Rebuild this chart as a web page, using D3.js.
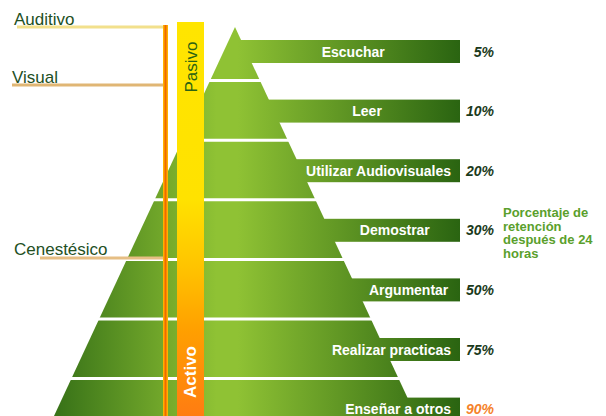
<!DOCTYPE html>
<html>
<head>
<meta charset="utf-8">
<script src="https://cdn.jsdelivr.net/npm/d3@7"></script>
<style>
  html, body { margin: 0; padding: 0; background: #fff; }
  svg { display: block; font-family: "Liberation Sans", Arial, sans-serif; }
</style>
</head>
<body>
<div id="container"></div>
<script>
// ------ Data ------
const activities = ["Escuchar", "Leer", "Utilizar Audiovisuales", "Demostrar",
  "Argumentar", "Realizar practicas", "Enseñar a otros"];
const retention = [5, 10, 20, 30, 50, 75, 90];
const senses = ["Auditivo", "Visual", "Cenestésico"];
const senseStart = ["Escuchar", "Leer", "Argumentar"];   // layer where each sense begins
const modes = ["Pasivo", "Activo"];
const noteLines = ["Porcentaje de", "retención", "después de 24", "horas"];

// ------ Global Values ------
const width = 606,
  height = 416;

const svg = d3.select('#container').append('svg')
  .attr('width', width)
  .attr('height', height);

const apex = { x: 235, y: 27 };
const barEnd = 460;

const y = d3.scaleBand()
  .domain(activities)
  .range([21, 21 + 59.6 * activities.length]);

// half width of the pyramid at a given height
const half = d3.scaleLinear()
  .domain([apex.y, 416])
  .range([0, 181]);

const defs = svg.append('defs');

const green = defs.append('linearGradient')
  .attr('id', 'green')
  .attr('gradientUnits', 'userSpaceOnUse')
  .attr('x1', 40).attr('x2', barEnd)
  .attr('y1', 0).attr('y2', 0);
[[0, '#2f6a15'], [0.42, '#8fc234'], [0.47, '#8fc234'], [1, '#2a6411']]
  .forEach(s => green.append('stop').attr('offset', s[0]).attr('stop-color', s[1]));

const band = defs.append('linearGradient')
  .attr('id', 'band')
  .attr('gradientUnits', 'userSpaceOnUse')
  .attr('x1', 0).attr('x2', 0)
  .attr('y1', 22).attr('y2', height);
[[0, '#ffe500'], [0.45, '#ffe200'], [0.62, '#ffc400'], [0.78, '#ffa000'], [1, '#ff7c12']]
  .forEach(s => band.append('stop').attr('offset', s[0]).attr('stop-color', s[1]));

// ------ Pyramid ------
const yb = height + 30;
svg.append('path')
  .attr('d', d3.line()([[apex.x, apex.y], [apex.x + half(yb), yb], [apex.x - half(yb), yb]]) + 'Z')
  .attr('fill', 'url(#green)');

const barH = 23, barOff = 19;

svg.append('g').selectAll('rect').data(activities)
  .enter().append('rect')
  .attr('x', apex.x)
  .attr('y', d => y(d) + barOff)
  .attr('width', barEnd - apex.x)
  .attr('height', barH)
  .attr('fill', 'url(#green)');

// white separators between layers
svg.append('g').selectAll('line').data(activities.slice(1))
  .enter().append('line')
  .attr('x1', d => apex.x - half(y(d)) - 2)
  .attr('x2', d => apex.x + half(y(d)) + 2)
  .attr('y1', d => y(d))
  .attr('y2', d => y(d))
  .attr('stroke', '#fff')
  .attr('stroke-width', 3);

// ------ Senses ------
const senseColors = ['#f2e08c', '#e0b674', '#e6be84'];
const senseShift = [0, 4.4, -1.5];
const senseY = (d, i) => i === 0 ? apex.y : y(senseStart[i]) + senseShift[i];
const lineStart = [17, 12, 40];

const sg = svg.append('g');
sg.selectAll('line').data(senses)
  .enter().append('line')
  .attr('x1', (d, i) => lineStart[i])
  .attr('x2', 166)
  .attr('y1', (d, i) => senseY(d, i))
  .attr('y2', (d, i) => senseY(d, i))
  .attr('stroke', (d, i) => senseColors[i])
  .attr('stroke-width', 3);

sg.selectAll('text').data(senses)
  .enter().append('text')
  .attr('x', (d, i) => i === 1 ? 12 : 14)
  .attr('y', (d, i) => senseY(d, i) - 2.5)
  .attr('font-size', 17)
  .attr('fill', '#23501f')
  .text(d => d);

// vertical orange line
svg.append('rect')
  .attr('x', 163).attr('y', 25)
  .attr('width', 5).attr('height', height)
  .attr('fill', '#ffb000');
svg.append('rect')
  .attr('x', 164.5).attr('y', 25)
  .attr('width', 2).attr('height', height)
  .attr('fill', '#f06800');

// Pasivo / Activo band
svg.append('rect')
  .attr('x', 177).attr('y', 22)
  .attr('width', 27).attr('height', height)
  .attr('fill', 'url(#band)');

svg.append('text')
  .attr('transform', 'translate(197,67) rotate(-90)')
  .attr('text-anchor', 'middle')
  .attr('font-size', 17)
  .attr('fill', '#2c6313')
  .text(modes[0]);

svg.append('text')
  .attr('transform', 'translate(196,372) rotate(-90)')
  .attr('text-anchor', 'middle')
  .attr('font-size', 17)
  .attr('font-weight', 'bold')
  .attr('fill', '#fff')
  .text(modes[1]);

// ------ Bar labels ------
svg.append('g').selectAll('text').data(activities)
  .enter().append('text')
  .attr('y', d => y(d) + barOff + barH / 2)
  .attr('dy', '0.36em')
  .attr('text-anchor', 'middle')
  .attr('font-size', 14)
  .attr('font-weight', 'bold')
  .attr('fill', '#fff')
  .text(d => d)
  .attr('x', function(d) {
    const mid = y(d) + barOff + barH / 2;
    const c = (apex.x + half(mid) + barEnd) / 2;
    const len = this.getComputedTextLength();
    return Math.min(c, 451 - len / 2);
  });

// percentages
svg.append('g').selectAll('text').data(retention)
  .enter().append('text')
  .attr('x', 494)
  .attr('y', (d, i) => y(activities[i]) + barOff + barH / 2)
  .attr('dy', '0.36em')
  .attr('text-anchor', 'end')
  .attr('font-size', 14)
  .attr('font-weight', 'bold')
  .attr('font-style', 'italic')
  .attr('fill', (d, i) => i === retention.length - 1 ? '#f5822a' : '#1b3a1b')
  .text(d => d + '%');

// note
svg.append('text')
  .attr('x', 503)
  .attr('font-size', 13)
  .attr('font-weight', 'bold')
  .attr('fill', '#5aa02c')
  .selectAll('tspan').data(noteLines)
  .enter().append('tspan')
  .attr('x', 503)
  .attr('y', (d, i) => 217 + i * 13.5)
  .text(d => d);
</script>
</body>
</html>
